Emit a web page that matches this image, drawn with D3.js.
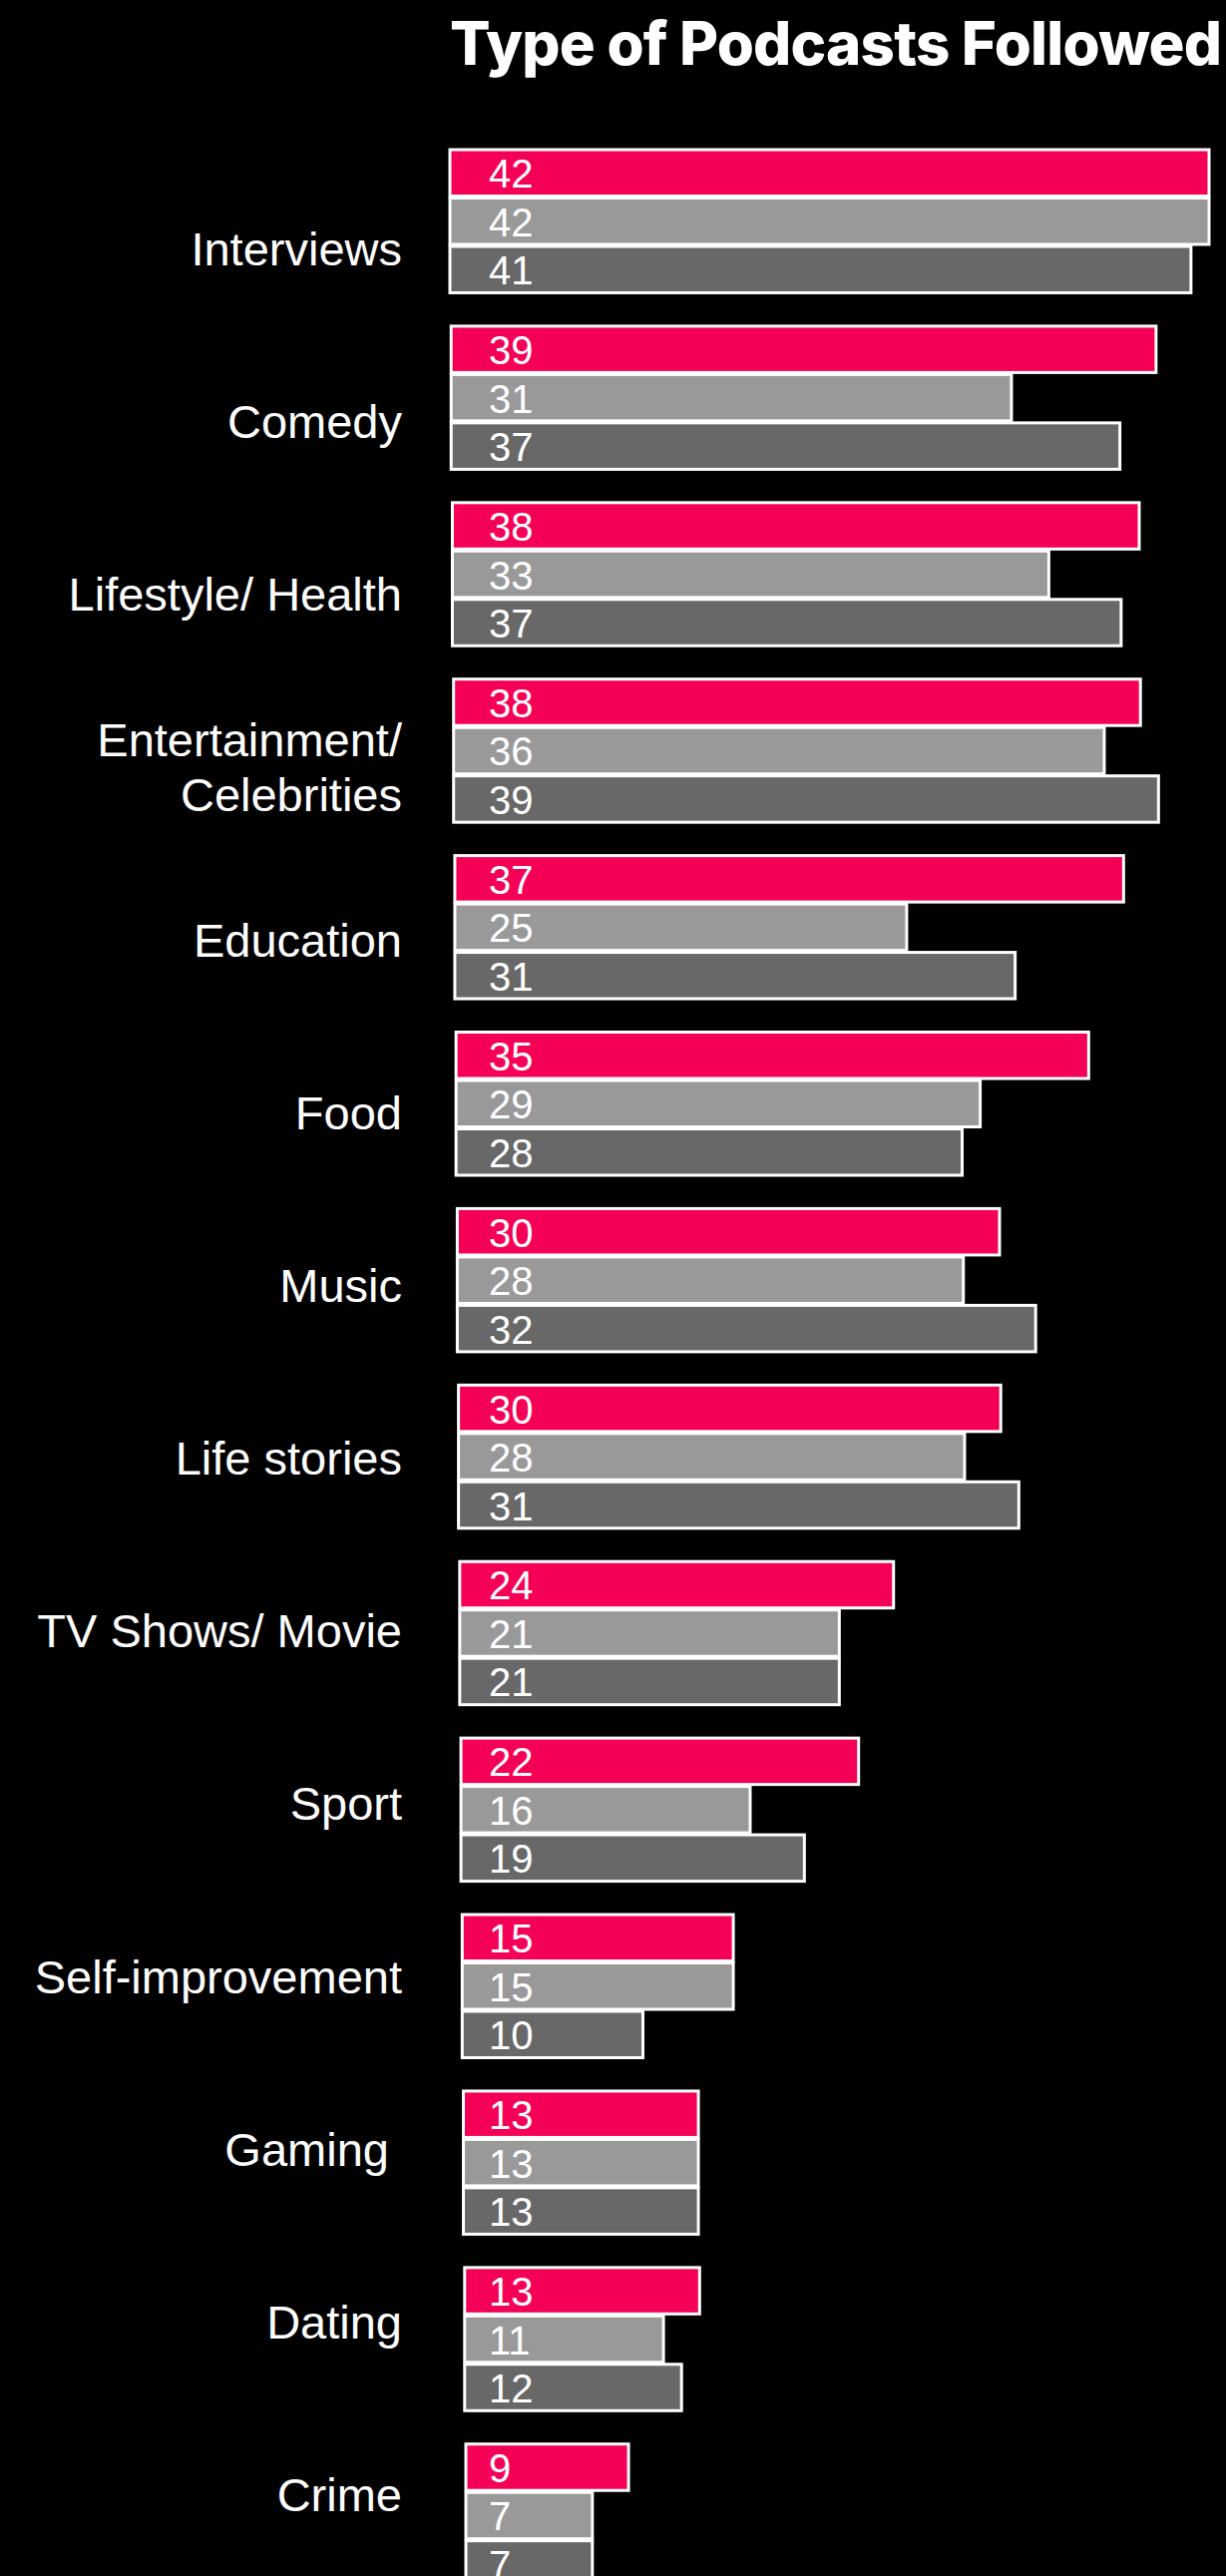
<!DOCTYPE html>
<html>
<head>
<meta charset="utf-8">
<script src="https://cdn.jsdelivr.net/npm/d3@7"></script>
<style>
  html, body { margin: 0; padding: 0; background: #000; }
  svg { display: block; }
</style>
</head>
<body>
<svg width="1229" height="2582"></svg>
<script>
var categories = ["Interviews", "Comedy", "Lifestyle/ Health", "Entertainment/ Celebrities", "Education",
  "Food", "Music", "Life stories", "TV Shows/ Movie", "Sport", "Self-improvement", "Gaming\u00a0", "Dating", "Crime"];
var seriesNames = ["Series 1", "Series 2", "Series 3"];
var series1 = [42, 39, 38, 38, 37, 35, 30, 30, 24, 22, 15, 13, 13, 9];
var series2 = [42, 31, 33, 36, 25, 29, 28, 28, 21, 16, 15, 13, 11, 7];
var series3 = [41, 37, 37, 39, 31, 28, 32, 31, 21, 19, 10, 13, 12, 7];
var seriesColors = ["#f50057", "#999999", "#686868"];
var title = "Type of Podcasts Followed";

var svg = d3.select("svg"),
  width = +svg.attr("width"),
  height = +svg.attr("height");

svg.append("rect").attr("width", width).attr("height", height).attr("fill", "#000");

var left = 451, top0 = 150;
var allSeries = [series1, series2, series3];

var x = d3.scaleLinear().domain([0, 42]).range([0, 761]);

// groups
var y0 = d3.scaleBand()
  .domain(categories)
  .range([top0, top0 + 13 * 176.9 + 143.5])
  .paddingInner(0.189);

var y1 = d3.scaleBand()
  .domain(seriesNames)
  .range([0, y0.bandwidth()])
  .paddingInner(0.041);

// bars drift slightly right going down, as in the original
var drift = d3.scaleLinear().domain([0, categories.length - 1]).range([0, 16]);

// label baselines sit on their own evenly spaced scale
var yLabel = d3.scalePoint().domain(categories).range([266, 2517]);

var color = d3.scaleOrdinal().domain(seriesNames).range(seriesColors);

svg.append("text")
  .attr("x", left)
  .attr("y", 65)
  .attr("fill", "#fff")
  .attr("font-family", "Inter, 'Liberation Sans', sans-serif")
  .attr("font-weight", 800)
  .attr("font-size", 60)
  .attr("textLength", 774)
  .attr("lengthAdjust", "spacing")
  .text(title);

var rows = categories.map(function(c, i) {
  return {
    cat: c,
    i: i,
    vals: seriesNames.map(function(s, j) { return { series: s, value: allSeries[j][i] }; })
  };
});

var group = svg.append("g")
  .selectAll("g")
  .data(rows)
  .enter().append("g")
  .attr("transform", function(d) { return "translate(0," + y0(d.cat) + ")"; });

group.selectAll("rect")
  .data(function(d) { return d.vals.map(function(v) { v.i = d.i; return v; }); })
  .enter().append("rect")
  .attr("x", function(d) { return left + drift(d.i); })
  .attr("y", function(d) { return y1(d.series); })
  .attr("width", function(d) { return x(d.value); })
  .attr("height", y1.bandwidth())
  .attr("fill", function(d) { return color(d.series); })
  .attr("stroke", "#fff")
  .attr("stroke-width", 3);

group.selectAll("text.val")
  .data(function(d) { return d.vals; })
  .enter().append("text")
  .attr("class", "val")
  .attr("x", left + 39)
  .attr("y", function(d) { return y1(d.series) + y1.bandwidth() / 2 + 15; })
  .attr("fill", "#fff")
  .attr("font-family", "'Liberation Sans', Arial, sans-serif")
  .attr("font-size", 40)
  .text(function(d) { return d.value; });

// category labels
var labels = svg.append("g")
  .attr("font-family", "'Liberation Sans', Arial, sans-serif")
  .attr("font-size", 47)
  .attr("fill", "#fff")
  .attr("text-anchor", "end")
  .selectAll("text")
  .data(categories)
  .enter().append("text")
  .attr("y", function(d) { return yLabel(d); });

labels.each(function(d) {
  var t = d3.select(this);
  var lines = d.indexOf("Entertainment") === 0 ? ["Entertainment/", "Celebrities"] : [d];
  lines.forEach(function(line, k) {
    t.append("tspan")
      .attr("x", 403)
      .attr("y", yLabel(d) + (k - (lines.length - 1) / 2) * 55)
      .text(line);
  });
});
</script>
</body>
</html>
